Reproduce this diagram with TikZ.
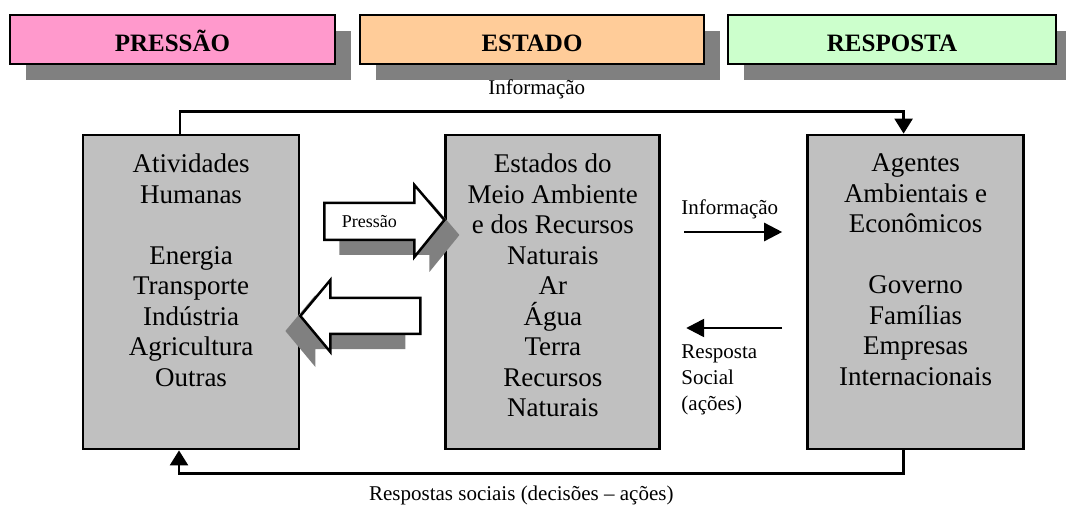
\documentclass[tikz,border=0pt]{standalone}
\usepackage{fontspec}
\setmainfont{Liberation Serif}
\usepackage{tikz}
\usetikzlibrary{arrows.meta, positioning, shadows, calc}
\definecolor{presspink}{HTML}{FF99CC}
\definecolor{estorange}{HTML}{FFCC99}
\definecolor{respgreen}{HTML}{CCFFCC}
\definecolor{boxgray}{HTML}{C0C0C0}
\definecolor{shadowgray}{HTML}{808080}

\begin{document}
\begin{tikzpicture}[x=1pt, y=1pt,
    header/.style={draw, line width=2pt, minimum height=49pt, inner sep=0pt,
      text height=25pt, text depth=0pt,
      font=\fontsize{25}{28}\selectfont\bfseries,
      drop shadow={shadow xshift=16pt, shadow yshift=-16pt, fill=shadowgray, opacity=1}},
    mainbox/.style={draw, line width=2.8pt, fill=boxgray, minimum width=216pt,
      minimum height=314pt, inner sep=0pt},
    boxtxt/.style={anchor=north, align=center, inner sep=0pt, font=\fontsize{27}{30.5}\selectfont},
    lbl/.style={inner sep=0pt, font=\fontsize{21}{26}\selectfont},
    flow/.style={line width=2.5pt, -{Triangle[length=15pt, width=18pt]}},
    flowmid/.style={line width=2.5pt, -{Triangle[length=18pt, width=18pt]}},
    blockarrow/.style={draw, line width=2.5pt, fill=white, line join=miter}]
  \useasboundingbox (0,0) rectangle (1066,504);
  % Header boxes
  \node[header, fill=presspink, minimum width=325pt] (press) at (172.5,464.5) {PRESSÃO};
  \node[header, fill=estorange, minimum width=344pt, right=23pt of press] (estado) {ESTADO};
  \node[header, fill=respgreen, minimum width=328pt, right=22pt of estado] (resp) {RESPOSTA};
  % Main boxes
  \node[mainbox] (atv) at (191,212) {};
  \node[mainbox, minimum width=214pt, right=144pt of atv] (est) {};
  \node[mainbox, right=145pt of est] (agt) {};
  \node[boxtxt] (atvtxt) at ([yshift=-20]atv.north)
    {Atividades\\Humanas\\[30.5pt]Energia\\Transporte\\Indústria\\Agricultura\\Outras};
  \node[boxtxt] (esttxt) at ([yshift=-20]est.north)
    {Estados do\\Meio Ambiente\\e dos Recursos\\Naturais\\Ar\\Água\\Terra\\Recursos\\Naturais};
  \node[boxtxt] (agttxt) at ([yshift=-20]agt.north)
    {Agentes\\Ambientais e\\Econômicos\\[30.5pt]Governo\\Famílias\\Empresas\\Internacionais};
  % Block arrows (pressure / social response)
  \draw[blockarrow, drop shadow={shadow xshift=15pt, shadow yshift=-15pt, fill=shadowgray, opacity=1}]
    ([yshift=72]est.west) -- ++(-30,35) -- ++(0,-18) -- ++(-90,0) -- ++(0,-37)
    -- ++(90,0) -- ++(0,-17) -- cycle;
  \node[font=\fontsize{18}{20}\selectfont, inner sep=0pt] (presslbl) at ([xshift=-75, yshift=70]est.west) {Pressão};
  \draw[blockarrow, drop shadow={shadow xshift=-15pt, shadow yshift=-15pt, fill=shadowgray, opacity=1}]
    ([yshift=-24]atv.east) -- ++(30,36) -- ++(0,-18) -- ++(90,0) -- ++(0,-36)
    -- ++(-90,0) -- ++(0,-18) -- cycle;
  % Information / response between state and agents
  \draw[flowmid] ([xshift=23, yshift=60]est.east) -- ([xshift=-24, yshift=60]agt.west)
    node[pos=0, lbl, anchor=base west, xshift=-4pt, yshift=17pt] (infomid) {Informação};
  \draw[flowmid] ([xshift=-24, yshift=-36]agt.west) -- ([xshift=25, yshift=-36]est.east)
    node[pos=1, lbl, align=left, anchor=north west, xshift=-6pt, yshift=-15pt] (resplbl) {Resposta\\Social\\(ações)};
  % Outer loop
  \draw[flow] ([xshift=-11]atv.north) -- ++(0,22) -| ([xshift=-12]agt.north)
    node[pos=0.25, lbl, above=11pt, xshift=-5pt] (infotop) {Informação};
  \draw[flow] ([xshift=-12]agt.south) -- ++(0,-23) -| ([xshift=-12]atv.south)
    node[pos=0.25, lbl, below=11pt, xshift=-20pt] (respbot) {Respostas sociais (decisões – ações)};
\end{tikzpicture}
\end{document}
